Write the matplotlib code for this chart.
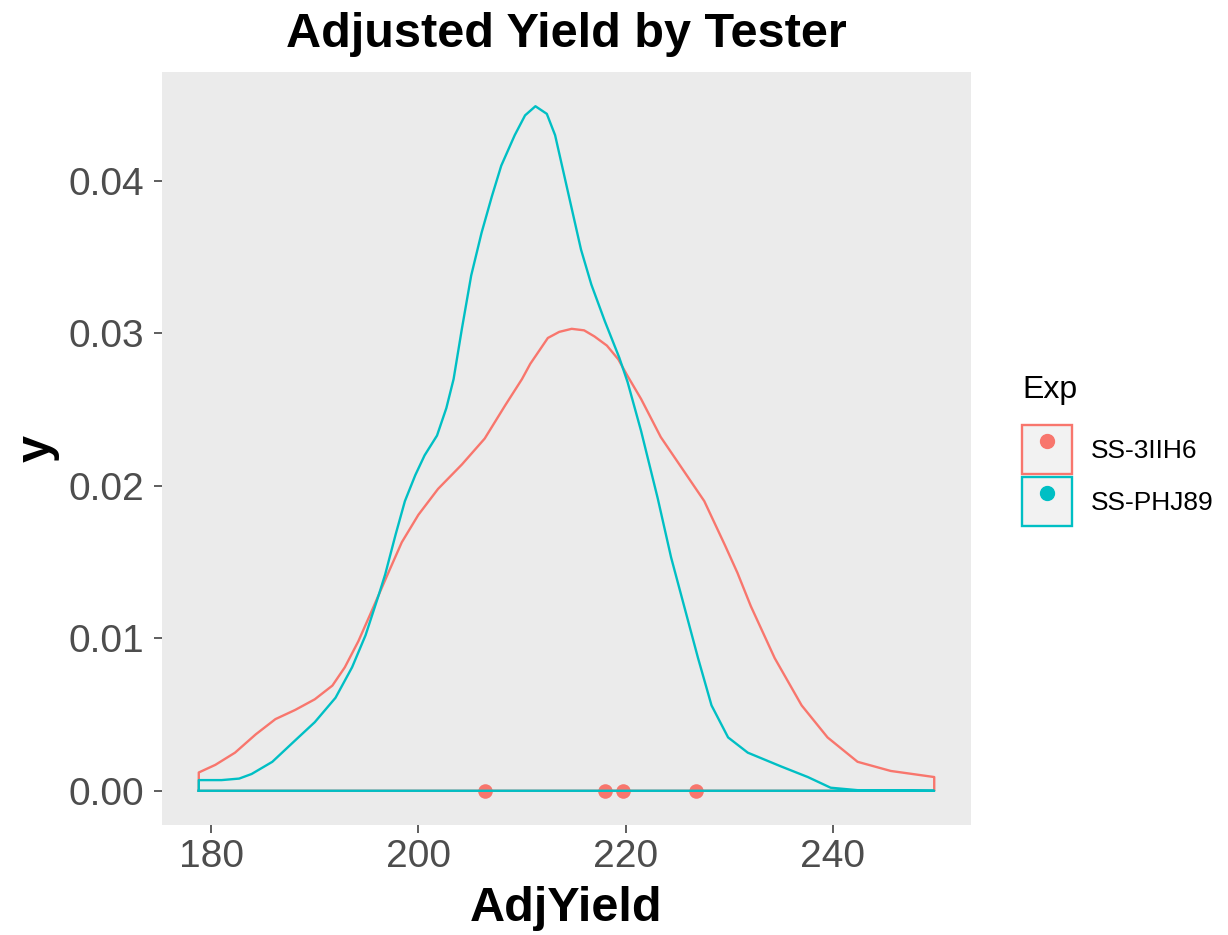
import numpy as np
import matplotlib
matplotlib.use("Agg")
import matplotlib.pyplot as plt
from matplotlib.patches import Rectangle
from matplotlib.lines import Line2D
from matplotlib.legend_handler import HandlerTuple

plt.rcParams['font.family'] = ['Liberation Sans', 'DejaVu Sans']

# ---- data ----
groups = ["SS-3IIH6", "SS-PHJ89"]
colors = ["#F8766D", "#00BFC4"]

red_x = [178.8, 180.4, 182.3, 184.3, 186.2, 188.1, 190.0, 191.7, 192.9, 194.2,
         195.5, 197.1, 198.4, 200.0, 201.9, 204.2, 206.4, 208.4, 210.0, 210.8,
         212.5, 213.6, 214.8, 216.0, 217.0, 218.2, 219.3, 220.2, 221.5, 223.4,
         225.7, 227.6, 229.6, 230.8, 232.1, 234.4, 237.0, 239.5, 242.4, 245.6,
         249.8]
red_y = [0.0012, 0.0017, 0.0025, 0.0037, 0.0047, 0.0053, 0.0060, 0.0069, 0.0081, 0.0098,
         0.0118, 0.0143, 0.0163, 0.0181, 0.0198, 0.0214, 0.0231, 0.0253, 0.0270, 0.0280,
         0.0297, 0.0301, 0.0303, 0.0302, 0.0298, 0.0292, 0.0283, 0.0272, 0.0257, 0.0232,
         0.0209, 0.0190, 0.0161, 0.0143, 0.0121, 0.0087, 0.0056, 0.0035, 0.0019, 0.0013,
         0.0009]

cyan_x = [178.8, 181.0, 182.7, 183.9, 185.9, 188.1, 190.0, 192.0, 193.6, 194.9,
          196.2, 196.8, 197.8, 198.7, 199.7, 200.6, 201.8, 202.7, 203.4, 204.2,
          205.1, 206.1, 207.1, 208.0, 209.3, 210.3, 211.3, 212.4, 213.2, 214.0,
          214.8, 215.7, 216.7, 218.0, 219.4, 220.2, 221.5, 223.1, 224.4, 225.7,
          227.0, 228.3, 229.9, 231.8, 235.0, 237.6, 239.8, 242.4, 249.8]
cyan_y = [0.0007, 0.0007, 0.0008, 0.0011, 0.0019, 0.0033, 0.0045, 0.0061, 0.0081, 0.0102,
          0.0129, 0.0142, 0.0168, 0.0190, 0.0207, 0.0220, 0.0233, 0.0251, 0.0270, 0.0303,
          0.0338, 0.0366, 0.0390, 0.0410, 0.0430, 0.0443, 0.0449, 0.0444, 0.0430, 0.0406,
          0.0382, 0.0355, 0.0332, 0.0308, 0.0284, 0.0268, 0.0236, 0.0192, 0.0153, 0.0120,
          0.0087, 0.0056, 0.0035, 0.0025, 0.0016, 0.0009, 0.0002, 0.00004, 0.0]

# points on the axis (red group)
pts_x = [206.4, 218.0, 219.8, 226.8]
pts_y = [0, 0, 0, 0]

x_ticks = [180, 200, 220, 240]
y_ticks = [0.00, 0.01, 0.02, 0.03, 0.04]

# ---- figure ----
fig = plt.figure(figsize=(12.28, 9.35), dpi=100)
ax = fig.add_axes([162 / 1228, 1 - 825 / 935, 809 / 1228, 753 / 935])
ax.set_facecolor("#EBEBEB")

ax.scatter(pts_x, pts_y, s=110, color=colors[0], zorder=2, linewidths=0)

for xs, ys, c in [(red_x, red_y, colors[0]), (cyan_x, cyan_y, colors[1])]:
    # closed outline like geom_density
    px = [xs[0]] + xs + [xs[-1], xs[0]]
    py = [0] + ys + [0, 0]
    ax.plot(px, py, color=c, lw=1.7, zorder=3, solid_joinstyle="round")

# ggplot-like 5% expansion
xmin, xmax = min(red_x + cyan_x), max(red_x + cyan_x)
ymax = max(red_y + cyan_y)
dx = (xmax - xmin) * 0.05
ax.set_xlim(xmin - dx, xmax + dx)
ax.set_ylim(-ymax * 0.05, ymax * 1.05)

ax.set_xticks(x_ticks)
ax.set_yticks(y_ticks)
ax.set_yticklabels([f"{v:.2f}" for v in y_ticks])
ax.tick_params(axis="both", colors="#333333", labelcolor="#4D4D4D",
               labelsize=28, length=6, width=1.1)
ax.tick_params(axis="y", pad=7)
ax.tick_params(axis="x", pad=4)
for s in ax.spines.values():
    s.set_visible(False)

ax.set_xlabel("AdjYield", fontsize=35, fontweight="bold", labelpad=8)
ax.set_ylabel("y", fontsize=35, fontweight="bold", labelpad=6)
ax.set_title("Adjusted Yield by Tester", fontsize=35, fontweight="bold", pad=18)

# legend: outlined keys with a dot, like ggplot
handles = []
for c in colors:
    box = Rectangle((0, 0), 1, 1, facecolor="#F2F2F2", edgecolor=c, linewidth=1.7)
    dot = Line2D([], [], color=c, marker="o", linestyle="none", markersize=10)
    handles.append((box, dot))
leg = ax.legend(handles, groups, handler_map={tuple: HandlerTuple(ndivide=1, pad=0)},
                title="Exp", loc="center left", bbox_to_anchor=(1.063, 0.497),
                frameon=False, fontsize=19, title_fontsize=23,
                handlelength=1.9, handleheight=2.5, handletextpad=0.7,
                labelspacing=0.1, borderaxespad=0, borderpad=0)
leg._legend_box.align = "left"
leg._legend_box.sep = 14  # gap between "Exp" and the keys

fig.savefig("out.png", dpi=100)
